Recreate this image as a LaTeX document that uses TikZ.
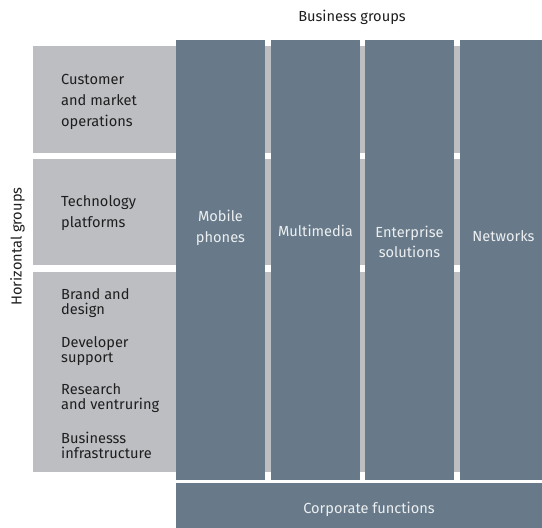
\documentclass[tikz,border=0pt]{standalone}
\usepackage{fontspec}
\setmainfont{Fira Sans}
\definecolor{bandgrey}{HTML}{BDBEC2}
\definecolor{colblue}{HTML}{687A89}
\definecolor{lighttext}{HTML}{ECEFF1}
\definecolor{darktext}{HTML}{1E1E1E}
\begin{document}
\begin{tikzpicture}[x=1pt,y=-1pt,
  band/.style={fill=bandgrey, draw=none, inner sep=0pt, anchor=north west},
  column/.style={fill=colblue, draw=none, inner sep=0pt, anchor=north west},
  darklabel/.style={text=darktext, font=\fontsize{14.6}{21}\selectfont, align=left, anchor=west, inner sep=0pt},
  itemlabel/.style={text=darktext, font=\fontsize{14.6}{15.5}\selectfont, align=left, anchor=west, inner sep=0pt},
  lightlabel/.style={text=lighttext, font=\fontsize{14.6}{20.5}\selectfont, align=center, inner sep=0pt},
  title/.style={text=darktext, font=\fontsize{14.6}{15}\selectfont, inner sep=0pt}]
\useasboundingbox (0,0) rectangle (542,528);
% horizontal bands
\node[band, minimum width=509pt, minimum height=107pt] (b1) at (33,46) {};
\node[band, minimum width=509pt, minimum height=106pt] (b2) at (33,159) {};
\node[band, minimum width=509pt, minimum height=200pt] (b3) at (33,272) {};
% business group columns
\node[column, minimum width=89pt, minimum height=440pt] (c1) at (176,40) {};
\node[column, minimum width=89pt, minimum height=440pt] (c2) at (271,40) {};
\node[column, minimum width=89pt, minimum height=440pt] (c3) at (365,40) {};
\node[column, minimum width=82pt, minimum height=440pt] (c4) at (460,40) {};
% corporate functions
\node[column, minimum width=366pt, minimum height=46pt] (corp) at (176,482.5) {};
% band texts
\node[darklabel] (t1) at (61,102) {Customer\\and market\\operations};
\node[darklabel] (t2) at (61,213) {Technology\\platforms};
\node[itemlabel] (t3) at (61,303) {Brand and\\design};
\node[itemlabel] (t4) at (61,351) {Developer\\support};
\node[itemlabel] (t5) at (61,398) {Research\\and ventruring};
\node[itemlabel] (t6) at (61,445.5) {Businesss\\infrastructure};
% column texts
\node[lightlabel] (l1) at (220.5,228) {Mobile\\phones};
\node[lightlabel] (l2) at (315.5,231) {Multimedia};
\node[lightlabel] (l3) at (409.5,242) {Enterprise\\solutions};
\node[lightlabel] (l4) at (503.5,236) {Networks};
\node[lightlabel] (l5) at (369,509) {Corporate functions};
% titles
\node[title] (bg) at (352,17.5) {Business groups};
\node[title, rotate=90] (hg) at (17.5,246.5) {Horizontal groups};
\end{tikzpicture}
\end{document}
